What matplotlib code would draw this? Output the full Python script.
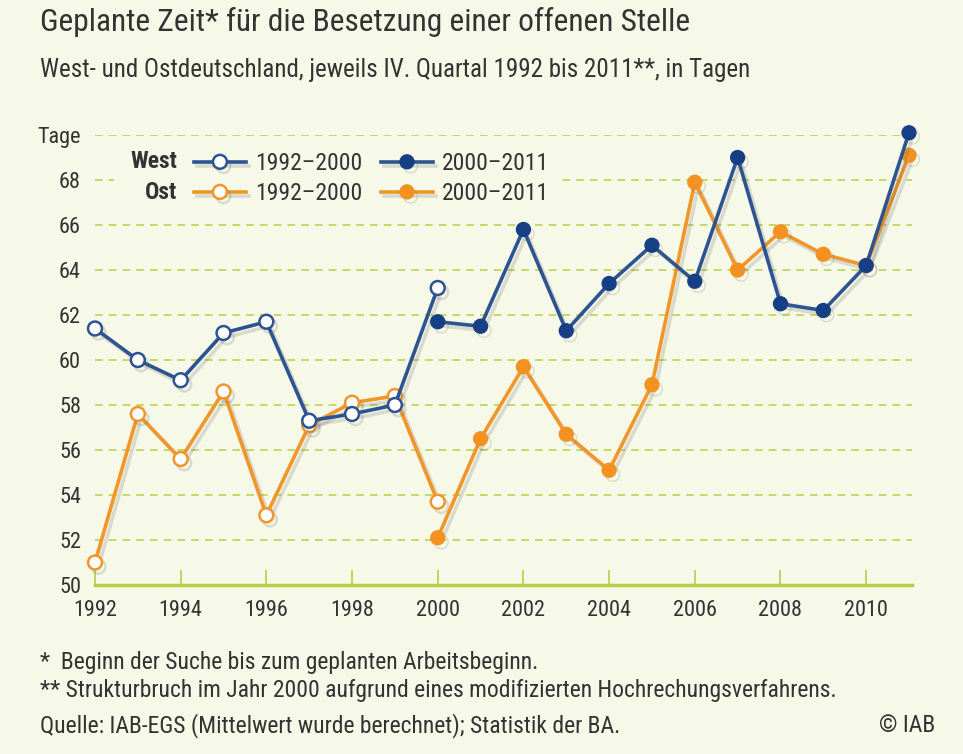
import numpy as np
import matplotlib.pyplot as plt
import matplotlib.patheffects as pe
from matplotlib.patches import Rectangle

plt.rcParams['font.family'] = ['Roboto Condensed', 'Liberation Sans Narrow', 'DejaVu Sans']

# values (days)
years_a = [1992, 1993, 1994, 1995, 1996, 1997, 1998, 1999, 2000]
years_b = [2000, 2001, 2002, 2003, 2004, 2005, 2006, 2007, 2008, 2009, 2010, 2011]
west_a = [61.4, 60.0, 59.1, 61.2, 61.7, 57.3, 57.6, 58.0, 63.2]
ost_a = [51.0, 57.6, 55.6, 58.6, 53.1, 57.1, 58.1, 58.4, 53.7]
west_b = [61.7, 61.5, 65.8, 61.3, 63.4, 65.1, 63.5, 69.0, 62.5, 62.2, 64.2, 70.1]
ost_b = [52.1, 56.5, 59.7, 56.7, 55.1, 58.9, 67.9, 64.0, 65.7, 64.7, 64.2, 69.1]

yticks = [50, 52, 54, 56, 58, 60, 62, 64, 66, 68, 70]
ylabels = ['50', '52', '54', '56', '58', '60', '62', '64', '66', '68', 'Tage']
xticks = list(range(1992, 2011, 2))

bg = '#F6F8E8'
txt = '#333333'
blue = '#2D5391'
navy = '#163F86'
orange = '#F0962A'
orange_dark = '#F39220'
green = '#B9CE45'

W, H = 963, 754
fig = plt.figure(figsize=(W / 100, H / 100), dpi=100, facecolor=bg)
ax = fig.add_axes([95 / W, 1 - 585 / H, 817 / W, 450 / H], facecolor=bg)

shadow = [pe.SimpleLineShadow(offset=(2.5, -3), shadow_color='#666666', alpha=0.2), pe.Normal()]

# gridlines
for y in yticks[1:]:
    ax.axhline(y, color=green, lw=1.1, ls=(0, (5, 4)), zorder=1)

# blank area behind the legend
ax.add_patch(Rectangle((0.023, 0.844), 0.546, 0.123, transform=ax.transAxes,
                       facecolor=bg, edgecolor='none', zorder=2))

l_wa, = ax.plot(years_a, west_a, color=blue, lw=2.6, marker='o', ms=10, mfc='white',
                mec=blue, mew=1.8, zorder=4, clip_on=False, path_effects=shadow)
l_oa, = ax.plot(years_a, ost_a, color=orange, lw=2.6, marker='o', ms=10, mfc='white',
                mec=orange, mew=1.8, zorder=3, clip_on=False, path_effects=shadow)
l_ob, = ax.plot(years_b, ost_b, color=orange, lw=2.6, marker='o', ms=10, mfc=orange_dark,
                mec=orange_dark, zorder=3, clip_on=False, path_effects=shadow)
l_wb, = ax.plot(years_b, west_b, color=blue, lw=2.6, marker='o', ms=10, mfc=navy,
                mec=navy, zorder=4, clip_on=False, path_effects=shadow)

ax.set_xlim(1992, 2011.07)
ax.set_ylim(50, 70)
ax.set_xticks(xticks)
ax.set_xticklabels([str(x) for x in xticks])
ax.set_yticks(yticks)
ax.set_yticklabels(ylabels)
ax.tick_params(axis='x', direction='in', length=11, width=1.2, color=green,
               labelsize=16, labelcolor=txt, pad=11)
ax.tick_params(axis='y', length=0, labelsize=16, labelcolor=txt, pad=10)
for s in ['top', 'right', 'left']:
    ax.spines[s].set_visible(False)
ax.spines['bottom'].set_color(green)
ax.spines['bottom'].set_linewidth(2.5)

leg = ax.legend([l_wa, l_oa, l_wb, l_ob], ['1992–2000', '1992–2000', '2000–2011', '2000–2011'],
                ncol=2, loc='upper left', bbox_to_anchor=(0.098, 1.004), frameon=False,
                fontsize=17, handlelength=2.2, handletextpad=0.38, columnspacing=0.8,
                labelspacing=0.3, borderpad=0.3)
for t in leg.get_texts():
    t.set_color(txt)
ax.text(0.1004, 0.942, 'West', ha='right', va='center', fontsize=17, transform=ax.transAxes,
        fontweight='bold', color=txt, zorder=6)
ax.text(0.1004, 0.873, 'Ost', ha='right', va='center', fontsize=17, transform=ax.transAxes,
        fontweight='bold', color=txt, zorder=6)

fig.text(40 / W, 1 - 22 / H, 'Geplante Zeit* für die Besetzung einer offenen Stelle',
         fontsize=22.6, color=txt, va='center')
fig.text(40 / W, 1 - 70 / H, 'West- und Ostdeutschland, jeweils IV. Quartal 1992 bis 2011**, in Tagen',
         fontsize=18, color=txt, va='center')
fig.text(40 / W, 1 - 662 / H, '*  Beginn der Suche bis zum geplanten Arbeitsbeginn.',
         fontsize=17, color=txt, va='center')
fig.text(40 / W, 1 - 690 / H, '** Strukturbruch im Jahr 2000 aufgrund eines modifizierten Hochrechungsverfahrens.',
         fontsize=17, color=txt, va='center')
fig.text(40 / W, 1 - 726 / H, 'Quelle: IAB-EGS (Mittelwert wurde berechnet); Statistik der BA.',
         fontsize=17, color=txt, va='center')
fig.text(935 / W, 1 - 726 / H, '© IAB', fontsize=17, color=txt, va='center', ha='right')

fig.savefig('out.png', dpi=100, facecolor=bg)
